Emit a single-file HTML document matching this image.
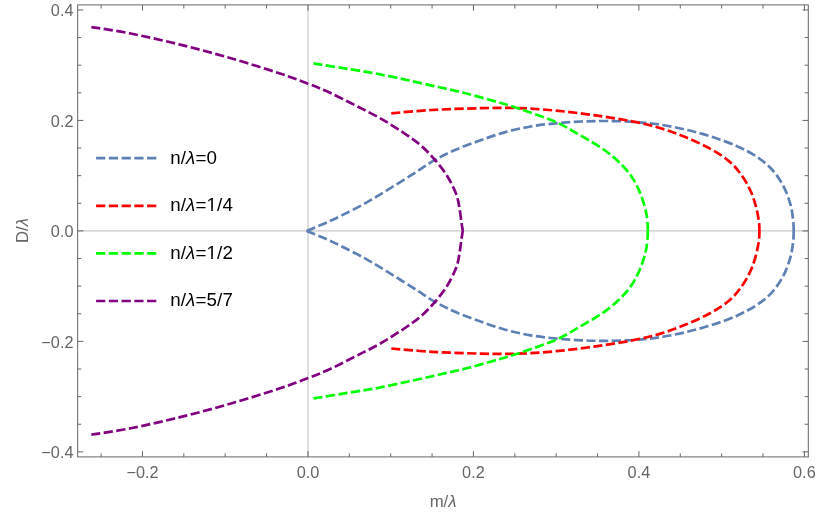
<!DOCTYPE html>
<html><head><meta charset="utf-8"><title>Plot</title>
<style>html,body{margin:0;padding:0;background:#fff}body{width:830px;height:514px;overflow:hidden;font-family:"Liberation Sans",sans-serif}svg{display:block;will-change:transform}</style>
</head><body>
<svg width="830" height="514" viewBox="0 0 830 514">
<rect width="830" height="514" fill="#fff"/>
<line x1="77.65" y1="230.90" x2="808.30" y2="230.90" stroke="#C9C9C9" stroke-width="1.2"/>
<line x1="308.05" y1="4.90" x2="308.05" y2="456.90" stroke="#C9C9C9" stroke-width="1.2"/>
<path d="M306.60 230.90 C309.28 229.80 317.03 226.78 322.70 224.30 C328.37 221.82 333.40 219.57 340.60 216.00 C347.80 212.43 357.47 207.62 365.90 202.90 C374.33 198.18 382.77 192.88 391.20 187.70 C399.63 182.52 409.33 176.35 416.50 171.80 C423.67 167.25 427.87 164.00 434.20 160.40 C440.53 156.80 446.90 153.50 454.50 150.20 C462.10 146.90 471.33 143.62 479.80 140.60 C488.27 137.58 496.83 134.45 505.30 132.10 C513.77 129.75 522.17 127.97 530.60 126.50 C539.03 125.03 547.47 124.13 555.90 123.30 C564.33 122.47 572.77 121.88 581.20 121.50 C589.63 121.12 597.48 120.93 606.50 121.00 C615.52 121.07 626.28 121.28 635.30 121.90 C644.32 122.52 652.17 123.40 660.60 124.70 C669.03 126.00 677.47 127.72 685.90 129.70 C694.33 131.68 702.77 133.90 711.20 136.60 C719.63 139.30 728.90 142.53 736.50 145.90 C744.10 149.27 750.88 152.87 756.80 156.80 C762.72 160.73 767.58 164.65 772.00 169.50 C776.42 174.35 780.27 180.22 783.30 185.90 C786.33 191.58 788.58 198.12 790.20 203.60 C791.82 209.08 792.42 214.25 793.00 218.80 C793.58 223.35 793.70 226.87 793.70 230.90" fill="none" stroke="#5E81B5" stroke-width="2.7" stroke-dasharray="9.20 3.499"/>
<path d="M306.60 230.90 C309.28 232.00 317.03 235.02 322.70 237.50 C328.37 239.98 333.40 242.23 340.60 245.80 C347.80 249.37 357.47 254.18 365.90 258.90 C374.33 263.62 382.77 268.92 391.20 274.10 C399.63 279.28 409.33 285.45 416.50 290.00 C423.67 294.55 427.87 297.80 434.20 301.40 C440.53 305.00 446.90 308.30 454.50 311.60 C462.10 314.90 471.33 318.18 479.80 321.20 C488.27 324.22 496.83 327.35 505.30 329.70 C513.77 332.05 522.17 333.83 530.60 335.30 C539.03 336.77 547.47 337.67 555.90 338.50 C564.33 339.33 572.77 339.92 581.20 340.30 C589.63 340.68 597.48 340.87 606.50 340.80 C615.52 340.73 626.28 340.52 635.30 339.90 C644.32 339.28 652.17 338.40 660.60 337.10 C669.03 335.80 677.47 334.08 685.90 332.10 C694.33 330.12 702.77 327.90 711.20 325.20 C719.63 322.50 728.90 319.27 736.50 315.90 C744.10 312.53 750.88 308.93 756.80 305.00 C762.72 301.07 767.58 297.15 772.00 292.30 C776.42 287.45 780.27 281.58 783.30 275.90 C786.33 270.22 788.58 263.68 790.20 258.20 C791.82 252.72 792.42 247.55 793.00 243.00 C793.58 238.45 793.70 234.93 793.70 230.90" fill="none" stroke="#5E81B5" stroke-width="2.7" stroke-dasharray="9.20 3.499"/>
<path d="M391.30 113.30 C398.05 112.75 417.02 110.85 431.80 110.00 C446.58 109.15 465.63 108.52 480.00 108.20 C494.37 107.88 505.35 107.70 518.00 108.10 C530.65 108.50 543.25 109.42 555.90 110.60 C568.55 111.78 581.25 113.42 593.90 115.20 C606.55 116.98 620.68 119.13 631.80 121.30 C642.92 123.47 651.58 125.53 660.60 128.20 C669.62 130.87 677.47 133.80 685.90 137.30 C694.33 140.80 703.93 145.15 711.20 149.20 C718.47 153.25 724.47 157.30 729.50 161.60 C734.53 165.90 737.90 170.13 741.40 175.00 C744.90 179.87 748.05 185.47 750.50 190.80 C752.95 196.13 754.70 201.88 756.10 207.00 C757.50 212.12 758.35 217.52 758.90 221.50 C759.45 225.48 759.40 227.77 759.40 230.90" fill="none" stroke="#FF0000" stroke-width="2.7" stroke-dasharray="9.20 3.460"/>
<path d="M391.30 348.50 C398.05 349.05 417.02 350.95 431.80 351.80 C446.58 352.65 465.63 353.28 480.00 353.60 C494.37 353.92 505.35 354.10 518.00 353.70 C530.65 353.30 543.25 352.38 555.90 351.20 C568.55 350.02 581.25 348.38 593.90 346.60 C606.55 344.82 620.68 342.67 631.80 340.50 C642.92 338.33 651.58 336.27 660.60 333.60 C669.62 330.93 677.47 328.00 685.90 324.50 C694.33 321.00 703.93 316.65 711.20 312.60 C718.47 308.55 724.47 304.50 729.50 300.20 C734.53 295.90 737.90 291.67 741.40 286.80 C744.90 281.93 748.05 276.33 750.50 271.00 C752.95 265.67 754.70 259.92 756.10 254.80 C757.50 249.68 758.35 244.28 758.90 240.30 C759.45 236.32 759.40 234.03 759.40 230.90" fill="none" stroke="#FF0000" stroke-width="2.7" stroke-dasharray="9.20 3.460"/>
<path d="M313.40 63.40 C320.48 64.53 344.80 68.38 355.90 70.20 C367.00 72.02 371.12 72.58 380.00 74.30 C388.88 76.02 399.47 78.38 409.20 80.50 C418.93 82.62 428.67 84.78 438.40 87.00 C448.13 89.22 457.33 91.17 467.60 93.80 C477.87 96.43 491.60 100.38 500.00 102.80 C508.40 105.22 508.68 105.10 518.00 108.30 C527.32 111.50 545.45 117.45 555.90 122.00 C566.35 126.55 573.00 131.20 580.70 135.60 C588.40 140.00 595.67 143.95 602.10 148.40 C608.53 152.85 614.32 157.48 619.30 162.30 C624.28 167.12 628.45 171.98 632.00 177.30 C635.55 182.62 638.28 188.52 640.60 194.20 C642.92 199.88 644.73 206.40 645.90 211.40 C647.07 216.40 647.28 220.95 647.60 224.20 C647.92 227.45 647.80 228.67 647.80 230.90" fill="none" stroke="#00FF00" stroke-width="2.7" stroke-dasharray="9.20 3.459"/>
<path d="M313.40 398.40 C320.48 397.27 344.80 393.42 355.90 391.60 C367.00 389.78 371.12 389.22 380.00 387.50 C388.88 385.78 399.47 383.42 409.20 381.30 C418.93 379.18 428.67 377.02 438.40 374.80 C448.13 372.58 457.33 370.63 467.60 368.00 C477.87 365.37 491.60 361.42 500.00 359.00 C508.40 356.58 508.68 356.70 518.00 353.50 C527.32 350.30 545.45 344.35 555.90 339.80 C566.35 335.25 573.00 330.60 580.70 326.20 C588.40 321.80 595.67 317.85 602.10 313.40 C608.53 308.95 614.32 304.32 619.30 299.50 C624.28 294.68 628.45 289.82 632.00 284.50 C635.55 279.18 638.28 273.28 640.60 267.60 C642.92 261.92 644.73 255.40 645.90 250.40 C647.07 245.40 647.28 240.85 647.60 237.60 C647.92 234.35 647.80 233.13 647.80 230.90" fill="none" stroke="#00FF00" stroke-width="2.7" stroke-dasharray="9.20 3.459"/>
<path d="M91.40 27.10 C97.93 28.17 115.63 30.53 130.60 33.50 C145.57 36.47 164.33 40.73 181.20 44.90 C198.07 49.07 215.33 53.73 231.80 58.50 C248.27 63.27 267.28 69.30 280.00 73.50 C292.72 77.70 299.67 80.45 308.10 83.70 C316.53 86.95 322.63 89.33 330.60 93.00 C338.57 96.67 347.47 101.40 355.90 105.70 C364.33 110.00 372.77 113.95 381.20 118.80 C389.63 123.65 399.75 130.23 406.50 134.80 C413.25 139.37 416.95 142.00 421.70 146.20 C426.45 150.40 430.80 155.12 435.00 160.00 C439.20 164.88 443.42 169.95 446.90 175.50 C450.38 181.05 453.85 188.13 455.90 193.30 C457.95 198.47 458.28 201.72 459.20 206.50 C460.12 211.28 460.80 217.93 461.40 222.00 C462.00 226.07 462.57 229.42 462.80 230.90" fill="none" stroke="#800080" stroke-width="2.7" stroke-dasharray="9.20 3.469"/>
<path d="M91.40 434.70 C97.93 433.63 115.63 431.27 130.60 428.30 C145.57 425.33 164.33 421.07 181.20 416.90 C198.07 412.73 215.33 408.07 231.80 403.30 C248.27 398.53 267.28 392.50 280.00 388.30 C292.72 384.10 299.67 381.35 308.10 378.10 C316.53 374.85 322.63 372.47 330.60 368.80 C338.57 365.13 347.47 360.40 355.90 356.10 C364.33 351.80 372.77 347.85 381.20 343.00 C389.63 338.15 399.75 331.57 406.50 327.00 C413.25 322.43 416.95 319.80 421.70 315.60 C426.45 311.40 430.80 306.68 435.00 301.80 C439.20 296.92 443.42 291.85 446.90 286.30 C450.38 280.75 453.85 273.67 455.90 268.50 C457.95 263.33 458.28 260.08 459.20 255.30 C460.12 250.52 460.80 243.87 461.40 239.80 C462.00 235.73 462.57 232.38 462.80 230.90" fill="none" stroke="#800080" stroke-width="2.7" stroke-dasharray="9.20 3.469"/>
<rect x="77.65" y="4.90" width="730.65" height="452.00" fill="none" stroke="#666666" stroke-width="1.0"/>
<path d="M101.10 456.90v-3.60M101.10 4.90v3.60M142.47 456.90v-5.70M142.47 4.90v5.70M183.84 456.90v-3.60M183.84 4.90v3.60M225.21 456.90v-3.60M225.21 4.90v3.60M266.58 456.90v-3.60M266.58 4.90v3.60M307.95 456.90v-5.70M307.95 4.90v5.70M349.32 456.90v-3.60M349.32 4.90v3.60M390.69 456.90v-3.60M390.69 4.90v3.60M432.06 456.90v-3.60M432.06 4.90v3.60M473.43 456.90v-5.70M473.43 4.90v5.70M514.80 456.90v-3.60M514.80 4.90v3.60M556.17 456.90v-3.60M556.17 4.90v3.60M597.54 456.90v-3.60M597.54 4.90v3.60M638.91 456.90v-5.70M638.91 4.90v5.70M680.28 456.90v-3.60M680.28 4.90v3.60M721.65 456.90v-3.60M721.65 4.90v3.60M763.02 456.90v-3.60M763.02 4.90v3.60M804.39 456.90v-5.70M804.39 4.90v5.70M77.65 451.86h5.70M808.30 451.86h-5.70M77.65 424.24h3.60M808.30 424.24h-3.60M77.65 396.62h3.60M808.30 396.62h-3.60M77.65 369.00h3.60M808.30 369.00h-3.60M77.65 341.38h5.70M808.30 341.38h-5.70M77.65 313.76h3.60M808.30 313.76h-3.60M77.65 286.14h3.60M808.30 286.14h-3.60M77.65 258.52h3.60M808.30 258.52h-3.60M77.65 230.90h5.70M808.30 230.90h-5.70M77.65 203.28h3.60M808.30 203.28h-3.60M77.65 175.66h3.60M808.30 175.66h-3.60M77.65 148.04h3.60M808.30 148.04h-3.60M77.65 120.42h5.70M808.30 120.42h-5.70M77.65 92.80h3.60M808.30 92.80h-3.60M77.65 65.18h3.60M808.30 65.18h-3.60M77.65 37.56h3.60M808.30 37.56h-3.60M77.65 9.94h5.70M808.30 9.94h-5.70" stroke="#666666" stroke-width="1.0" fill="none"/>
<g font-family="'Liberation Sans', sans-serif" font-size="16.3" fill="#666666">
<text x="142.47" y="478.1" text-anchor="middle">−0.2</text>
<text x="307.95" y="478.1" text-anchor="middle">0.0</text>
<text x="473.43" y="478.1" text-anchor="middle">0.2</text>
<text x="638.91" y="478.1" text-anchor="middle">0.4</text>
<text x="804.39" y="478.1" text-anchor="middle">0.6</text>
<text x="73.5" y="458.06" text-anchor="end">−0.4</text>
<text x="73.5" y="347.58" text-anchor="end">−0.2</text>
<text x="73.5" y="237.10" text-anchor="end">0.0</text>
<text x="73.5" y="126.62" text-anchor="end">0.2</text>
<text x="73.5" y="16.14" text-anchor="end">0.4</text>
<text x="443.1" y="506.9" font-size="16.8" text-anchor="middle">m/<tspan font-style="italic">λ</tspan></text>
<text transform="translate(28.3 230.5) rotate(-90)" font-size="16.8" text-anchor="middle">D/<tspan font-style="italic">λ</tspan></text>
</g>
<g font-family="'Liberation Sans', sans-serif" font-size="18.8" letter-spacing="0.12" fill="#000">
<line x1="96.1" y1="158.20" x2="156.6" y2="158.20" stroke="#5E81B5" stroke-width="2.7" stroke-dasharray="9.2 3.55"/>
<text x="170.2" y="163.50">n/<tspan font-style="italic">λ</tspan>=0</text>
<line x1="96.1" y1="205.80" x2="156.6" y2="205.80" stroke="#FF0000" stroke-width="2.7" stroke-dasharray="9.2 3.55"/>
<text x="170.2" y="211.10">n/<tspan font-style="italic">λ</tspan>=1/4</text>
<line x1="96.1" y1="253.40" x2="156.6" y2="253.40" stroke="#00FF00" stroke-width="2.7" stroke-dasharray="9.2 3.55"/>
<text x="170.2" y="258.70">n/<tspan font-style="italic">λ</tspan>=1/2</text>
<line x1="96.1" y1="301.00" x2="156.6" y2="301.00" stroke="#800080" stroke-width="2.7" stroke-dasharray="9.2 3.55"/>
<text x="170.2" y="306.30">n/<tspan font-style="italic">λ</tspan>=5/7</text>
</g>
<rect x="206.5" y="208.85" width="4.72" height="2.3" fill="#fff"/>
<rect x="212.88" y="208.85" width="3.95" height="2.3" fill="#fff"/>
<rect x="206.5" y="256.85" width="4.72" height="2.3" fill="#fff"/>
<rect x="212.88" y="256.85" width="3.95" height="2.3" fill="#fff"/>
</svg>
</body></html>
